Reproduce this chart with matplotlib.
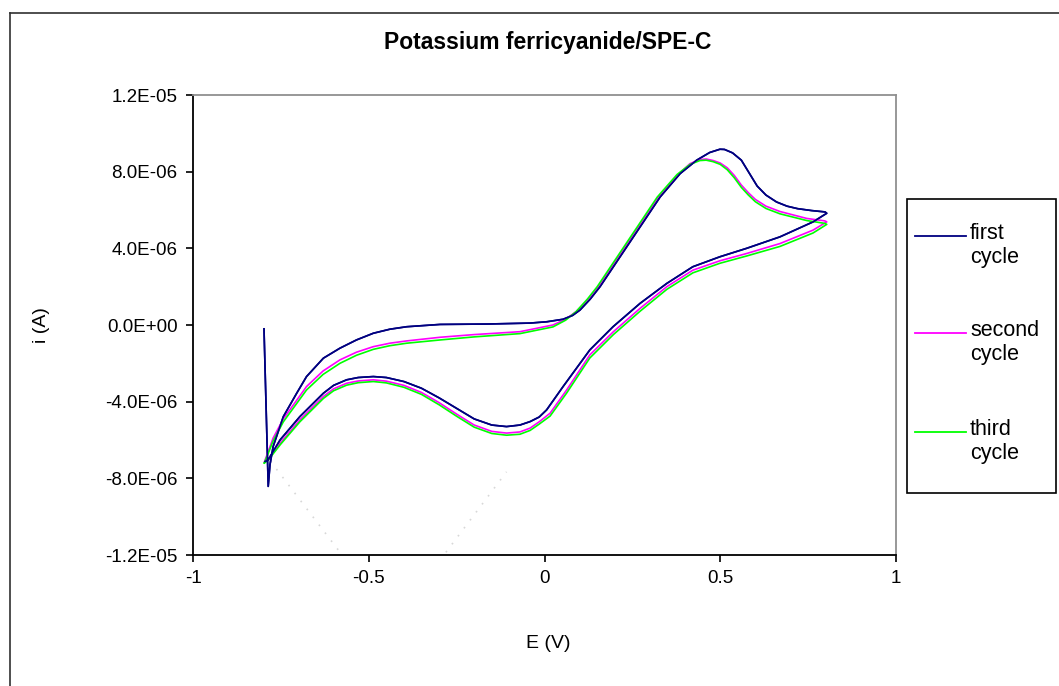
import matplotlib
matplotlib.use("Agg")
import matplotlib.pyplot as plt
from matplotlib.lines import Line2D
from matplotlib.patches import Rectangle
from matplotlib.ticker import FuncFormatter, FixedLocator

plt.rcParams['font.family'] = ['Liberation Sans', 'DejaVu Sans']

# ---------------- data (E in V, i in microampere) ----------------
title = "Potassium ferricyanide/SPE-C"
x_label = "E (V)"
y_label = "i (A)"
series_labels = ["first\ncycle", "second\ncycle", "third\ncycle"]
series_colors = ["#000080", "#FF00FF", "#00FF00"]

x_ticks = [-1, -0.5, 0, 0.5, 1]
y_ticks = [-1.2e-05, -8e-06, -4e-06, 0.0, 4e-06, 8e-06, 1.2e-05]

E_first = [-0.798, -0.786, -0.781, -0.772, -0.743, -0.705, -0.677, -0.629, -0.582,
           -0.535, -0.487, -0.440, -0.392, -0.297, -0.164, -0.041, 0.007, 0.053, 0.080,
           0.101, 0.130, 0.158, 0.215, 0.272, 0.329, 0.386, 0.433, 0.470, 0.499, 0.512,
           0.535, 0.560, 0.580, 0.605, 0.630, 0.660, 0.690, 0.720, 0.760, 0.798, 0.803,
           0.764, 0.670, 0.575, 0.499, 0.422, 0.348, 0.272, 0.195, 0.129, 0.053, 0.006,
           -0.015, -0.041, -0.070, -0.108, -0.150, -0.200, -0.250, -0.300, -0.350,
           -0.400, -0.450, -0.487, -0.530, -0.563, -0.600, -0.629, -0.696, -0.752,
           -0.786, -0.795]
i_first = [-0.20, -8.42, -7.29, -6.34, -4.78, -3.56, -2.69, -1.73, -1.21,
           -0.78, -0.43, -0.22, -0.09, 0.03, 0.05, 0.10, 0.17, 0.30, 0.50,
           0.78, 1.35, 2.00, 3.56, 5.12, 6.68, 7.90, 8.60, 9.00, 9.17, 9.16,
           8.98, 8.60, 8.00, 7.25, 6.78, 6.42, 6.20, 6.07, 5.97, 5.90, 5.83,
           5.38, 4.60, 4.00, 3.56, 3.04, 2.17, 1.13, -0.09, -1.30, -3.21, -4.43,
           -4.80, -5.04, -5.22, -5.30, -5.22, -4.90, -4.35, -3.80, -3.30,
           -2.95, -2.74, -2.69, -2.74, -2.86, -3.15, -3.56, -4.78, -5.99,
           -7.03, -7.12]

E_second = [-0.795, -0.772, -0.743, -0.677, -0.630, -0.582, -0.535, -0.487, -0.440,
            -0.392, -0.297, -0.200, -0.070, 0.024, 0.060, 0.090, 0.125, 0.153, 0.210,
            0.267, 0.324, 0.380, 0.414, 0.442, 0.460, 0.480, 0.500, 0.520, 0.540,
            0.560, 0.580, 0.600, 0.630, 0.670, 0.746, 0.798, 0.803,
            0.764, 0.670, 0.575, 0.499, 0.422, 0.348, 0.272, 0.196, 0.129, 0.063, 0.016,
            -0.015, -0.041, -0.070, -0.108, -0.150, -0.200, -0.250, -0.300, -0.350,
            -0.400, -0.450, -0.487, -0.530, -0.563, -0.600, -0.629, -0.696, -0.752,
            -0.786, -0.797]
i_second = [-7.05, -5.90, -4.90, -3.21, -2.40, -1.82, -1.42, -1.13, -0.95,
            -0.83, -0.64, -0.50, -0.35, 0.00, 0.30, 0.70, 1.35, 2.00, 3.56,
            5.12, 6.68, 7.85, 8.42, 8.63, 8.66, 8.58, 8.45, 8.20, 7.80,
            7.30, 6.90, 6.55, 6.20, 5.92, 5.56, 5.43, 5.38,
            4.95, 4.25, 3.73, 3.35, 2.86, 2.00, 0.87, -0.35, -1.56, -3.39, -4.60,
            -5.05, -5.38, -5.58, -5.64, -5.55, -5.22, -4.65, -4.05, -3.52,
            -3.15, -2.93, -2.86, -2.92, -3.04, -3.33, -3.73, -4.95, -6.16,
            -7.00, -7.15]

E_third = [-0.797, -0.772, -0.743, -0.677, -0.630, -0.582, -0.535, -0.487, -0.440,
           -0.392, -0.297, -0.200, -0.070, 0.024, 0.060, 0.090, 0.122, 0.150, 0.207,
           0.264, 0.321, 0.377, 0.414, 0.442, 0.460, 0.480, 0.500, 0.520, 0.540,
           0.560, 0.580, 0.600, 0.630, 0.670, 0.746, 0.798, 0.803,
           0.764, 0.670, 0.575, 0.499, 0.422, 0.348, 0.272, 0.196, 0.129, 0.063, 0.016,
           -0.015, -0.041, -0.070, -0.108, -0.150, -0.200, -0.250, -0.300, -0.350,
           -0.400, -0.450, -0.487, -0.530, -0.563, -0.600, -0.629, -0.696, -0.752,
           -0.786, -0.797]
i_third = [-7.20, -6.05, -5.05, -3.39, -2.58, -2.00, -1.58, -1.27, -1.08,
           -0.95, -0.78, -0.62, -0.45, -0.10, 0.25, 0.70, 1.35, 2.00, 3.56,
           5.12, 6.68, 7.85, 8.38, 8.58, 8.60, 8.52, 8.38, 8.10, 7.68,
           7.18, 6.78, 6.43, 6.08, 5.80, 5.45, 5.30, 5.25,
           4.80, 4.10, 3.60, 3.22, 2.72, 1.86, 0.72, -0.50, -1.72, -3.55, -4.75,
           -5.17, -5.50, -5.70, -5.75, -5.66, -5.33, -4.76, -4.16, -3.62,
           -3.25, -3.02, -2.95, -3.01, -3.14, -3.43, -3.83, -5.05, -6.25,
           -7.05, -7.20]

# faint, barely visible dotted trace
E_faint = [-0.78, -0.43, -0.108]
i_faint = [-7.10, -15.5, -7.66]

# ---------------- figure ----------------
W, H = 1059, 686
fig = plt.figure(figsize=(W / 100, H / 100), dpi=100)
fig.patch.set_facecolor("white")

def fx(px):
    return px / W

def fy(py):
    return 1 - py / H

# outer chart frame
fig.add_artist(Line2D([fx(10), fx(10)], [fy(13), fy(H + 5)], color="#303030", lw=1.2,
                      transform=fig.transFigure))
fig.add_artist(Line2D([fx(10), fx(W + 5)], [fy(13), fy(13)], color="#303030", lw=1.2,
                      transform=fig.transFigure))

L, R, T, B = 193, 896, 95, 555
ax = fig.add_axes([fx(L), fy(B), fx(R - L), (B - T) / H])
ax.set_facecolor("white")

scale = 1e-6
ax.plot(E_faint, [v * scale for v in i_faint], color="#d8d8d8", lw=1.2,
        linestyle=(0, (1, 5)), zorder=1)
all_E = [E_first, E_second, E_third]
all_i = [i_first, i_second, i_third]
handles = []
for E, I, c, lab in zip(all_E, all_i, series_colors, series_labels):
    ln, = ax.plot(E, [v * scale for v in I], color=c, lw=1.2, label=lab, zorder=3,
                  solid_joinstyle="round")
    handles.append(ln)
# redraw first cycle on top so navy stays visible
ax.plot(E_first, [v * scale for v in i_first], color=series_colors[0], lw=1.2, zorder=4,
        solid_joinstyle="round")

ax.set_xlim(-1, 1)
ax.set_ylim(-1.2e-05, 1.2e-05)
ax.xaxis.set_major_locator(FixedLocator(x_ticks))
ax.yaxis.set_major_locator(FixedLocator(y_ticks))
ax.xaxis.set_major_formatter(FuncFormatter(lambda v, p: f"{v:g}"))
ax.yaxis.set_major_formatter(FuncFormatter(lambda v, p: f"{v:.1E}"))
ax.tick_params(axis="both", direction="out", length=5, width=1.2, color="black",
               labelsize=13.5, pad=6)
for s in ["left", "bottom"]:
    ax.spines[s].set_color("black")
    ax.spines[s].set_linewidth(1.3)
for s in ["top", "right"]:
    ax.spines[s].set_color("#909090")
    ax.spines[s].set_linewidth(1.3)

fig.text(fx(548), fy(643), x_label, ha="center", va="center", fontsize=14)
fig.text(fx(42), fy(325), y_label, ha="center", va="center", fontsize=14, rotation=90)
fig.text(fx(548), fy(43), title, ha="center", va="center", fontsize=16.5, fontweight="bold")

# legend box
lx0, ly0, lx1, ly1 = 907, 199, 1056, 493
fig.add_artist(Rectangle((fx(lx0), fy(ly1)), fx(lx1 - lx0), (ly1 - ly0) / H,
                         transform=fig.transFigure, facecolor="white",
                         edgecolor="black", lw=1.2))
rows_y = [236, 333, 432]
for h, lab, yy in zip(handles, series_labels, rows_y):
    fig.add_artist(Line2D([fx(915), fx(966)], [fy(yy), fy(yy)], color=h.get_color(),
                          lw=1.3, transform=fig.transFigure))
    fig.text(fx(970), fy(yy - 13), lab, ha="left", va="top", fontsize=15.5,
             linespacing=1.2)

fig.savefig("out.png", dpi=100)
